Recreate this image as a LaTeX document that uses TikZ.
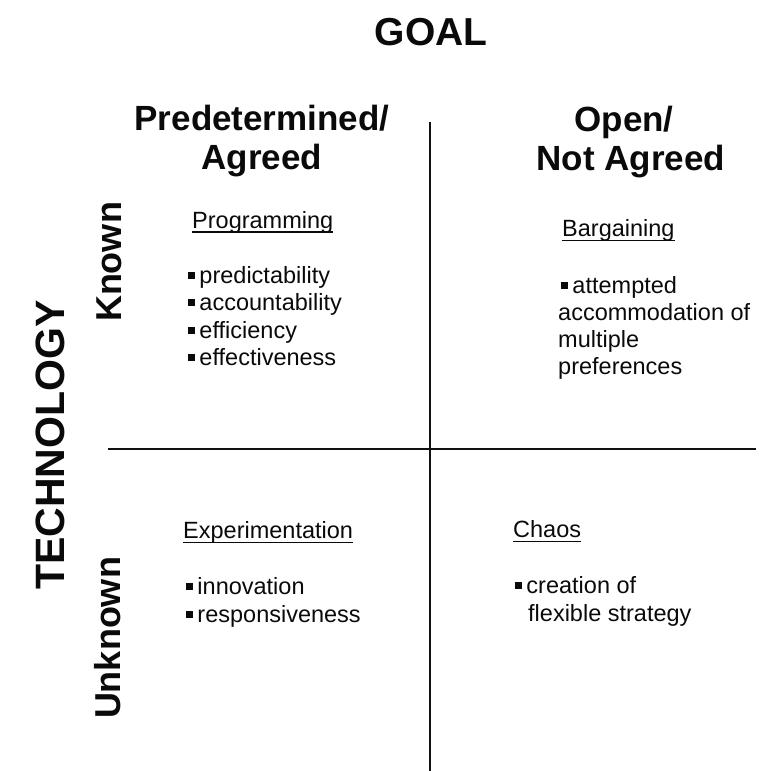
\documentclass[tikz,border=0pt]{standalone}
\usepackage{fontspec}
\setmainfont{Liberation Sans}
\usepackage{xcolor}
\usepackage{tikz}
\definecolor{gridInk}{HTML}{111111}
\definecolor{textInk}{HTML}{0A0A0A}
\tikzset{
  axistitle/.style={font=\bfseries\fontsize{39}{47}\selectfont, text=textInk, anchor=base, inner sep=0pt},
  coltitle/.style={font=\bfseries\fontsize{35}{39}\selectfont, text=textInk, anchor=base, inner sep=0pt},
  sidetitle/.style={font=\bfseries\fontsize{#1}{#1}\selectfont, text=textInk, rotate=90, anchor=center, inner sep=0pt},
  cellhead/.style={font=\fontsize{23.5}{28}\selectfont, text=textInk, anchor=base west, inner sep=0pt},
  celltext/.style={font=\fontsize{23.5}{28}\selectfont, text=textInk, anchor=base west, inner sep=0pt},
  divider/.style={line width=1.7pt, draw=gridInk},
  headrule/.style={line width=1.2pt, draw=textInk},
}
\newcommand{\sqbul}{\rule[0.17em]{0.28em}{0.28em}\hspace{0.2em}}

\begin{document}
\begin{tikzpicture}[x=1pt,y=-1pt]
  \useasboundingbox (0,0) rectangle (763,771);

  % ---------- axis titles ----------
  \node[axistitle] (goal) at (431,45) {GOAL};
  \node[sidetitle=41] (tech) at (50,445) {TECHNOLOGY};

  % ---------- column heads ----------
  \node[coltitle] (predA) at (262,130) {Predetermined/};
  \node[coltitle] (predB) at (262,169) {Agreed};
  \node[coltitle] (openA) at (624,131) {Open/};
  \node[coltitle] (openB) at (631,170) {Not Agreed};

  % ---------- row heads ----------
  \node[sidetitle=36] (known)   at (109,262) {Known};
  \node[sidetitle=36] (unknown) at (108,638) {Unknown};

  % ---------- quadrant dividers ----------
  \draw[divider] (430,122) -- (430,771);
  \draw[divider] (108,449) -- (756,449);

  % ---------- known / agreed ----------
  \node[cellhead] (prog) at (192,228) {Programming};
  \draw[headrule] ([yshift=-4pt]prog.base west) -- ([yshift=-4pt]prog.base east);
  \node[celltext] (pred) at (188,283) {\sqbul predictability};
  \node[celltext] (acct) at (188,310) {\sqbul accountability};
  \node[celltext] (effi) at (188,338) {\sqbul efficiency};
  \node[celltext] (effe) at (188,365) {\sqbul effectiveness};

  % ---------- known / not agreed ----------
  \node[cellhead] (barg) at (562,236) {Bargaining};
  \draw[headrule] ([yshift=-4.5pt]barg.base west) -- ([yshift=-4.5pt]barg.base east);
  \node[celltext] (attA) at (561,293) {\sqbul attempted};
  \node[celltext] (attB) at (558,320) {accommodation of};
  \node[celltext] (attC) at (558,347) {multiple};
  \node[celltext] (attD) at (558,374) {preferences};

  % ---------- unknown / agreed ----------
  \node[cellhead] (expt) at (183,538) {Experimentation};
  \draw[headrule] ([yshift=-4.5pt]expt.base west) -- ([yshift=-4.5pt]expt.base east);
  \node[celltext] (innov) at (186,594) {\sqbul innovation};
  \node[celltext] (resp)  at (186,622) {\sqbul responsiveness};

  % ---------- unknown / not agreed ----------
  \node[cellhead] (chaos) at (513,537) {Chaos};
  \draw[headrule] ([yshift=-4.5pt]chaos.base west) -- ([yshift=-4.5pt]chaos.base east);
  \node[celltext] (creA) at (515,593) {\sqbul creation of};
  \node[celltext] (creB) at (528,621) {flexible strategy};

\end{tikzpicture}
\end{document}
